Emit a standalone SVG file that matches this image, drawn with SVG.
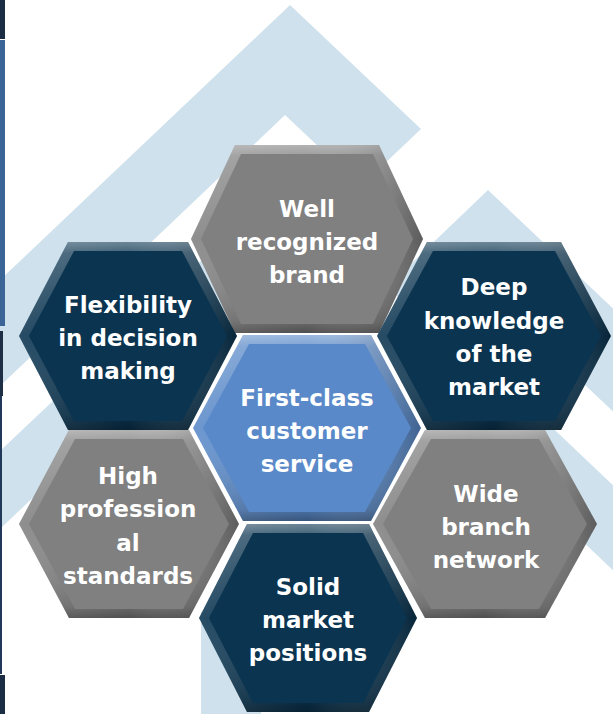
<svg xmlns="http://www.w3.org/2000/svg" width="613" height="714" viewBox="0 0 613 714">
<style>
.bg{fill:#cfe1ec}
.grey{fill:#808080}
.navy{fill:#0a3450}
.blue{fill:#5989c8}
.bv{fill:url(#bevV)}
.bh{fill:url(#bevH)}
.edge{fill:none;stroke:#fff;stroke-width:4;stroke-linejoin:miter}
.lbl{font-family:"DejaVu Sans","Liberation Sans",sans-serif;font-weight:bold;font-size:23px;fill:#fff;text-anchor:middle}
</style>
<defs>
<linearGradient id="bevV" x1="0" y1="0" x2="0" y2="1">
<stop offset="0" stop-color="#fff" stop-opacity=".4"/>
<stop offset=".06" stop-color="#fff" stop-opacity=".22"/>
<stop offset=".5" stop-color="#fff" stop-opacity="0"/>
<stop offset=".94" stop-color="#000" stop-opacity=".18"/>
<stop offset="1" stop-color="#000" stop-opacity=".38"/>
</linearGradient>
<linearGradient id="bevH" x1="0" y1="0" x2="1" y2="0">
<stop offset="0" stop-color="#fff" stop-opacity=".12"/>
<stop offset=".5" stop-color="#fff" stop-opacity="0"/>
<stop offset="1" stop-color="#000" stop-opacity=".28"/>
</linearGradient>
</defs>
<rect width="613" height="714" fill="#fff"/>
<g id="backdrop">
<polygon class="bg" points="290,5 421,129 -20,548 -20,470 320,148 285,115 -20,405 -20,299"/>
<polygon class="bg" points="488,190 640,334 640,437 488,293 420,358 392,282"/>
<polygon class="bg" points="440,321 640,511 640,596 440,406"/>
<rect class="bg" x="201" y="612" width="60" height="102"/>
<rect x="0" y="0" width="5" height="39" fill="#1b2d45"/>
<rect x="0" y="40" width="5" height="286" fill="#3b6597"/>
<rect x="0" y="331" width="3" height="65" fill="#1e2e44"/>
<rect x="0" y="396" width="2" height="278" fill="#22385a"/>
<rect x="0" y="675" width="5" height="39" fill="#1b2d45"/>
</g>
<g id="connectors"/>
<g id="n-well">
<polygon class="grey" points="235,145 379,145 423,239 379,333 235,333 191,239"/>
<polygon class="bv" points="235,145 379,145 423,239 379,333 235,333 191,239"/>
<polygon class="bh" points="235,145 379,145 423,239 379,333 235,333 191,239"/>
<polygon class="grey" points="241,154 373,154 413,239 373,324 241,324 201,239"/>
<text class="lbl" x="307" y="217">Well</text>
<text class="lbl" x="307" y="250">recognized</text>
<text class="lbl" x="307" y="283">brand</text>
</g>
<g id="n-flex">
<polygon class="navy" points="68,242 188,242 237,336 188,430 68,430 19,336"/>
<polygon class="bv" points="68,242 188,242 237,336 188,430 68,430 19,336"/>
<polygon class="bh" points="68,242 188,242 237,336 188,430 68,430 19,336"/>
<polygon class="navy" points="74,251 182,251 227,336 182,421 74,421 29,336"/>
<text class="lbl" x="128" y="313">Flexibility</text>
<text class="lbl" x="128" y="346">in decision</text>
<text class="lbl" x="128" y="379">making</text>
</g>
<g id="n-deep">
<polygon class="navy" points="427,242 561,242 611,336 561,430 427,430 377,336"/>
<polygon class="bv" points="427,242 561,242 611,336 561,430 427,430 377,336"/>
<polygon class="bh" points="427,242 561,242 611,336 561,430 427,430 377,336"/>
<polygon class="navy" points="433,251 555,251 601,336 555,421 433,421 387,336"/>
<text class="lbl" x="494" y="295">Deep</text>
<text class="lbl" x="494" y="329">knowledge</text>
<text class="lbl" x="494" y="362">of the</text>
<text class="lbl" x="494" y="395">market</text>
</g>
<g id="n-high">
<polygon class="grey" points="69,430 189,430 239,524 189,618 69,618 19,524"/>
<polygon class="bv" points="69,430 189,430 239,524 189,618 69,618 19,524"/>
<polygon class="bh" points="69,430 189,430 239,524 189,618 69,618 19,524"/>
<polygon class="grey" points="75,439 183,439 229,524 183,609 75,609 29,524"/>
<text class="lbl" x="128" y="484">High</text>
<text class="lbl" x="128" y="517">profession</text>
<text class="lbl" x="128" y="551">al</text>
<text class="lbl" x="128" y="584">standards</text>
</g>
<g id="n-wide">
<polygon class="grey" points="425,430 545,430 597,524 545,618 425,618 373,524"/>
<polygon class="bv" points="425,430 545,430 597,524 545,618 425,618 373,524"/>
<polygon class="bh" points="425,430 545,430 597,524 545,618 425,618 373,524"/>
<polygon class="grey" points="431,439 539,439 587,524 539,609 431,609 383,524"/>
<text class="lbl" x="486" y="502">Wide</text>
<text class="lbl" x="486" y="535">branch</text>
<text class="lbl" x="486" y="568">network</text>
</g>
<g id="n-solid">
<polygon class="navy" points="247,524 369,524 417,618 369,712 247,712 199,618"/>
<polygon class="bv" points="247,524 369,524 417,618 369,712 247,712 199,618"/>
<polygon class="bh" points="247,524 369,524 417,618 369,712 247,712 199,618"/>
<polygon class="navy" points="253,533 363,533 407,618 363,703 253,703 209,618"/>
<text class="lbl" x="308" y="595">Solid</text>
<text class="lbl" x="308" y="628">market</text>
<text class="lbl" x="308" y="661">positions</text>
</g>
<g id="n-first">
<polygon class="edge" points="243,335 371,335 421,428 371,521 243,521 193,428"/>
<polygon class="blue" points="243,335 371,335 421,428 371,521 243,521 193,428"/>
<polygon class="bv" points="243,335 371,335 421,428 371,521 243,521 193,428"/>
<polygon class="bh" points="243,335 371,335 421,428 371,521 243,521 193,428"/>
<polygon class="blue" points="249,344 365,344 411,428 365,512 249,512 203,428"/>
<text class="lbl" x="307" y="406">First-class</text>
<text class="lbl" x="307" y="439">customer</text>
<text class="lbl" x="307" y="472">service</text>
</g>
</svg>
